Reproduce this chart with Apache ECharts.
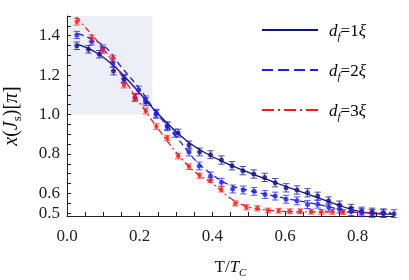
<!DOCTYPE html>
<html>
<head>
<meta charset="utf-8">
<script src="https://cdn.jsdelivr.net/npm/echarts@6/dist/echarts.min.js"></script>
<style>html,body{margin:0;padding:0;background:#fff}#c{width:409px;height:280px}</style>
</head>
<body>
<div id="c"></div>
<script>
// ---- data ----
const xTickLabels = [0, 0.2, 0.4, 0.6, 0.8];
const yTickLabels = [0.5, 0.6, 0.8, 1.0, 1.2, 1.4];
const xMinorTicks = [0,0.05,0.1,0.15,0.2,0.25,0.3,0.35,0.4,0.45,0.5,0.55,0.6,0.65,0.7,0.75,0.8,0.85,0.9];
const yMinorTicks = [0.5,0.55,0.6,0.65,0.7,0.75,0.8,0.85,0.9,0.95,1.0,1.05,1.1,1.15,1.2,1.25,1.3,1.35,1.4,1.45,1.5];

const navyX = [0.027,0.059,0.089,0.128,0.157,0.187,0.217,0.246,0.276,0.306,0.336,0.365,0.395,0.425,0.454,0.484,0.514,0.544,0.573,0.603,0.633,0.662,0.69,0.72,0.75,0.782,0.811,0.84,0.871];
const navyY = [1.349,1.331,1.306,1.221,1.179,1.087,1.065,1.006,0.943,0.906,0.845,0.810,0.796,0.769,0.740,0.715,0.698,0.681,0.654,0.628,0.617,0.603,0.586,0.562,0.541,0.524,0.510,0.505,0.501];
const navyErr = [0.019,0.019,0.019,0.02,0.02,0.02,0.02,0.02,0.02,0.02,0.02,0.02,0.02,0.021,0.021,0.021,0.021,0.021,0.021,0.021,0.021,0.021,0.02,0.02,0.02,0.02,0.02,0.02,0.02];

const blueX = [0.027,0.068,0.098,0.126,0.157,0.197,0.216,0.245,0.276,0.297,0.336,0.364,0.395,0.425,0.456,0.485,0.515,0.545,0.573,0.603,0.633,0.662,0.69,0.72,0.75,0.782,0.811,0.84,0.871,0.9];
const blueY = [1.404,1.371,1.335,1.261,1.183,1.124,1.074,1.001,0.938,0.905,0.810,0.739,0.688,0.656,0.622,0.617,0.610,0.594,0.586,0.570,0.562,0.543,0.545,0.530,0.520,0.508,0.502,0.498,0.497,0.497];
const blueErr = [0.018,0.018,0.018,0.02,0.02,0.02,0.02,0.02,0.02,0.02,0.02,0.02,0.02,0.02,0.02,0.02,0.02,0.02,0.02,0.02,0.02,0.02,0.02,0.02,0.02,0.02,0.02,0.02,0.02,0.02];

const redX = [0.027,0.068,0.098,0.126,0.157,0.187,0.217,0.246,0.276,0.306,0.336,0.365,0.395,0.425,0.463,0.494,0.524,0.553,0.583,0.613,0.642,0.672,0.70,0.73,0.76];
const redY = [1.471,1.387,1.327,1.285,1.150,1.087,1.018,0.939,0.881,0.789,0.735,0.690,0.667,0.620,0.549,0.529,0.524,0.513,0.512,0.509,0.509,0.507,0.506,0.506,0.505];
const redErr = [0.017,0.016,0.016,0.016,0.015,0.015,0.015,0.014,0.014,0.014,0.014,0.013,0.013,0.013,0.013,0.013,0.013,0.012,0.012,0.012,0.012,0.012,0.012,0.012,0.012];

const navyFitX = [0.03,0.08,0.13,0.18,0.23,0.28,0.33,0.38,0.43,0.48,0.53,0.58,0.63,0.68,0.73,0.78,0.82,0.86,0.9];
const navyFitY = [1.356,1.315,1.245,1.150,1.045,0.948,0.866,0.806,0.760,0.720,0.685,0.650,0.617,0.585,0.552,0.520,0.502,0.496,0.495];
const blueFitX = [0.03,0.1,0.15,0.2,0.25,0.3,0.35,0.4,0.45,0.5,0.6,0.7,0.78,0.9];
const blueFitY = [1.41,1.35,1.24,1.13,1.00,0.89,0.775,0.695,0.640,0.615,0.575,0.540,0.508,0.497];
const redFitX = [0.025,0.1,0.15,0.2,0.25,0.3,0.35,0.4,0.45,0.5,0.55,0.6,0.7,0.9];
const redFitY = [1.495,1.335,1.200,1.060,0.930,0.810,0.712,0.650,0.575,0.530,0.515,0.508,0.505,0.503];

const shadeX = [0, 0.235];
const shadeY = [1.0, 1.5];

// ---- build ----
const NAVY = '#111188', BLUE = '#1f1ff5', RED = '#ff1a1a';
const zip = (a, b) => a.map((v, i) => [v, b[i]]);
const zip3 = (a, b, c) => a.map((v, i) => [v, b[i], c[i]]);
const SERIF = '"Liberation Serif", "DejaVu Serif", serif';

function errSeries(data, color) {
  return {
    type: 'custom', data: data, z: 4,
    renderItem: function (params, api) {
      const x = api.value(0), y = api.value(1), e = api.value(2);
      const t = api.coord([x, y + e]), b = api.coord([x, y - e]);
      const hw = 3.2;
      const st = { stroke: color, lineWidth: 1, opacity: 0.75 };
      return { type: 'group', children: [
        { type: 'line', shape: { x1: t[0], y1: t[1], x2: b[0], y2: b[1] }, style: st },
        { type: 'line', shape: { x1: t[0] - hw, y1: t[1], x2: t[0] + hw, y2: t[1] }, style: st },
        { type: 'line', shape: { x1: b[0] - hw, y1: b[1], x2: b[0] + hw, y2: b[1] }, style: st }
      ]};
    }
  };
}
function ptSeries(data, color, size) {
  return { type: 'scatter', data: data, symbol: 'circle', symbolSize: size, z: 5,
    itemStyle: { color: color } };
}
function fitSeries(data, color, dash, extra) {
  return Object.assign({ type: 'line', data: data, showSymbol: false, smooth: 0.4, z: 3,
    lineStyle: { color: color, width: 1.3, type: dash } }, extra || {});
}

const rich = {
  i: { fontFamily: SERIF, fontStyle: 'italic', fontSize: 17, color: '#111', lineHeight: 22 },
  n: { fontFamily: SERIF, fontSize: 17, color: '#111', lineHeight: 22 },
  sub: { fontFamily: SERIF, fontSize: 11, color: '#111', lineHeight: 11, verticalAlign: 'bottom' },
  isub: { fontFamily: SERIF, fontStyle: 'italic', fontSize: 11, color: '#111', lineHeight: 11, verticalAlign: 'bottom' }
};
const richY = {
  i: Object.assign({}, rich.i, { fontSize: 20, lineHeight: 24 }),
  n: Object.assign({}, rich.n, { fontSize: 20, lineHeight: 24 }),
  sub: Object.assign({}, rich.sub, { fontSize: 13, lineHeight: 13 })
};

const chart = echarts.init(document.getElementById('c'), null, { renderer: 'canvas' });
const legendRows = [
  { y: 30, color: NAVY, dash: 'solid', txt: '{i|d}{isub|f}{n|=1}{i|ξ}' },
  { y: 70, color: BLUE, dash: [11, 5], txt: '{i|d}{isub|f}{n|=2}{i|ξ}' },
  { y: 110, color: RED, dash: [12, 4, 2, 4], txt: '{i|d}{isub|f}{n|=3}{i|ξ}' }
];
const graphics = [];
legendRows.forEach(r => {
  graphics.push({ type: 'line', shape: { x1: 262, y1: r.y, x2: 318, y2: r.y },
    style: { stroke: r.color, lineWidth: 2, lineDash: r.dash === 'solid' ? null : r.dash } });
  graphics.push({ type: 'text', x: 329, y: r.y + 2,
    style: { text: r.txt, rich: rich, verticalAlign: 'middle', align: 'left' } });
});

chart.setOption({
  animation: false,
  textStyle: { fontFamily: SERIF },
  grid: { left: 67, right: 15, top: 16, bottom: 64, containLabel: false, outerBoundsMode: 'none' },
  xAxis: {
    type: 'value', min: 0, max: 0.9,
    name: '{n|T/}{i|T}{isub|C}', nameLocation: 'middle', nameGap: 41,
    nameTextStyle: { rich: rich },
    axisLine: { show: true, lineStyle: { color: '#222', width: 1 } },
    axisTick: { show: true, inside: true, length: 4, customValues: xMinorTicks, lineStyle: { color: '#222' } },
    axisLabel: { customValues: xTickLabels, formatter: v => v.toFixed(1), fontFamily: SERIF, fontSize: 17, color: '#222', margin: 12 },
    splitLine: { show: false }
  },
  yAxis: {
    type: 'value', min: 0.485, max: 1.5,
    name: '{i|x}{n|(}{i|J}{sub|s}{n|)[}{i|π}{n|]}', nameLocation: 'middle', nameGap: 43, nameRotate: 90,
    nameTextStyle: { rich: richY },
    axisLine: { show: true, lineStyle: { color: '#222', width: 1 } },
    axisTick: { show: true, inside: true, length: 4, customValues: yMinorTicks, lineStyle: { color: '#222' } },
    axisLabel: { customValues: yTickLabels, formatter: v => v.toFixed(1), fontFamily: SERIF, fontSize: 17, color: '#222', margin: 7 },
    splitLine: { show: false }
  },
  graphic: graphics,
  series: [
    fitSeries(zip(navyFitX, navyFitY), NAVY, 'solid', {
      markArea: { silent: true, itemStyle: { color: '#eceff6' }, z: 0,
        data: [[{ coord: [shadeX[0], shadeY[0]] }, { coord: [shadeX[1], shadeY[1]] }]] }
    }),
    fitSeries(zip(blueFitX, blueFitY), BLUE, [6, 4]),
    fitSeries(zip(redFitX, redFitY), RED, [6, 3, 2, 3]),
    errSeries(zip3(navyX, navyY, navyErr), NAVY),
    errSeries(zip3(blueX, blueY, blueErr), BLUE),
    errSeries(zip3(redX, redY, redErr), RED),
    ptSeries(zip(navyX, navyY), NAVY, 5),
    ptSeries(zip(blueX, blueY), BLUE, 5),
    ptSeries(zip(redX, redY), RED, 4.5)
  ]
});
</script>
</body>
</html>
